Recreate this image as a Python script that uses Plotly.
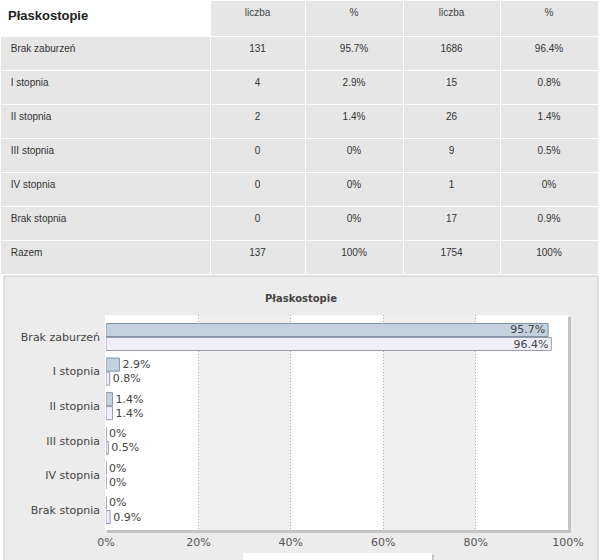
import plotly.graph_objects as go

# ---------------- data ----------------
categories = ["Brak zaburzeń", "I stopnia", "II stopnia", "III stopnia", "IV stopnia", "Brak stopnia"]
count_a = [131, 4, 2, 0, 0, 0]
pct_a = [95.7, 2.9, 1.4, 0, 0, 0]
count_b = [1686, 15, 26, 9, 1, 17]
pct_b = [96.4, 0.8, 1.4, 0.5, 0, 0.9]
total_label = "Razem"
total_a = 137
total_b = 1754
table_title = "Płaskostopie"
col_headers = ["liczba", "%", "liczba", "%"]
x_ticks = [0, 20, 40, 60, 80, 100]
x_tick_labels = ["0%", "20%", "40%", "60%", "80%", "100%"]

W, H = 600, 560
def px(x):
    return x / W
def py(y):
    return 1 - y / H

def fmt_pct(v):
    return f"{v:g}%"

# ---------------- table ----------------
row_labels = ["\u00a0" + c for c in categories] + ["\u00a0" + total_label]
col1 = [str(v) for v in count_a] + [str(total_a)]
col2 = [fmt_pct(v) for v in pct_a] + ["100%"]
col3 = [str(v) for v in count_b] + [str(total_b)]
col4 = [fmt_pct(v) for v in pct_b] + ["100%"]

TFONT = "Liberation Sans, Arial, sans-serif"
fig = go.Figure()
fig.add_trace(go.Table(
    domain=dict(x=[0, px(598)], y=[py(276), 1]),
    columnwidth=[210, 95, 98, 97, 98],
    header=dict(
        values=["<b>" + table_title + "</b>"] + col_headers,
        fill_color=["white", "#e6e6e6", "#e6e6e6", "#e6e6e6", "#e6e6e6"],
        align=["left", "center", "center", "center", "center"],
        font=dict(family=TFONT, size=[13, 10, 10, 10, 10], color=["#222", "#444", "#444", "#444", "#444"]),
        height=36,
        line=dict(color="white", width=1),
    ),
    cells=dict(
        values=[row_labels, col1, col2, col3, col4],
        fill_color="#e6e6e6",
        align=["left", "center", "center", "center", "center"],
        font=dict(family=TFONT, size=10, color="#333"),
        height=34,
        line=dict(color="white", width=1),
    ),
))

# ---------------- bars ----------------
CFONT = "DejaVu Sans, Verdana, sans-serif"
def positions(vals):
    return ["inside" if v > 50 else "outside" for v in vals]

fig.add_trace(go.Bar(
    y=categories, x=pct_a, orientation="h", name="2010",
    marker=dict(color="#c2d2df", line=dict(color="#8194a8", width=1)),
    text=[fmt_pct(v) for v in pct_a], textposition=positions(pct_a),
    insidetextanchor="end", constraintext="none", cliponaxis=False,
    insidetextfont=dict(family=CFONT, size=11, color="#444"),
    outsidetextfont=dict(family=CFONT, size=11, color="#444"),
    showlegend=False,
))
fig.add_trace(go.Bar(
    y=categories, x=pct_b, orientation="h", name="ogółem",
    marker=dict(color="#efeefa", line=dict(color="#9a9cb2", width=1)),
    text=[fmt_pct(v) for v in pct_b], textposition=positions(pct_b),
    insidetextanchor="end", constraintext="none", cliponaxis=False,
    insidetextfont=dict(family=CFONT, size=11, color="#444"),
    outsidetextfont=dict(family=CFONT, size=11, color="#444"),
    showlegend=False,
))

# ---------------- decorations ----------------
shapes = [
    dict(type="rect", xref="paper", yref="paper", x0=px(4), x1=px(598), y0=py(600), y1=py(276),
         fillcolor="#ececec", line=dict(color="#c8c8c8", width=1), layer="below"),
    dict(type="rect", xref="paper", yref="paper", x0=px(107), x1=px(571), y0=py(533), y1=py(317),
         fillcolor="#c4c4c4", line=dict(width=0), layer="below"),
    dict(type="rect", xref="paper", yref="paper", x0=px(105), x1=px(568), y0=py(530), y1=py(315),
         fillcolor="white", line=dict(width=0), layer="below"),
    dict(type="rect", xref="paper", yref="paper", x0=px(245), x1=px(434), y0=py(570), y1=py(555),
         fillcolor="#c4c4c4", line=dict(width=0), layer="below"),
    dict(type="rect", xref="paper", yref="paper", x0=px(243), x1=px(432), y0=py(570), y1=py(553),
         fillcolor="white", line=dict(width=0), layer="below"),
]
for a, b in [(20, 40), (60, 80)]:
    shapes.append(dict(type="rect", xref="x", yref="paper", x0=a, x1=b, y0=py(530), y1=py(315),
                       fillcolor="#efefef", line=dict(width=0), layer="below"))

fig.update_layout(
    template="none",
    width=W, height=H, autosize=False,
    margin=dict(l=0, r=0, t=0, b=0, pad=0, autoexpand=False),
    paper_bgcolor="white",
    plot_bgcolor="rgba(0,0,0,0)",
    barmode="group", bargap=0.19, bargroupgap=0.07,
    shapes=shapes,
    title=dict(text="<b>" + table_title + "</b>", x=px(301), xref="paper", y=py(298), yref="container",
               xanchor="center", yanchor="middle", automargin=False,
               font=dict(family=CFONT, size=10, color="#444")),
    xaxis=dict(domain=[px(106), px(568)], range=[0, 100], tickvals=x_ticks, ticktext=x_tick_labels,
               automargin=False,
               showgrid=True, gridcolor="#b4b4b4", griddash="1px,2px", gridwidth=1,
               zeroline=False, showline=False, ticks="", ticklabelstandoff=4,
               tickfont=dict(family=CFONT, size=11, color="#555"), fixedrange=True),
    yaxis=dict(domain=[py(530), py(315)], type="category", range=[5.578, -0.636],
               automargin=False,
               showgrid=False, zeroline=False, showline=False, ticks="", ticklabelstandoff=5,
               tickfont=dict(family=CFONT, size=11, color="#444"), fixedrange=True),
)

fig.write_html("out.html", config={"responsive": False, "displayModeBar": False})
